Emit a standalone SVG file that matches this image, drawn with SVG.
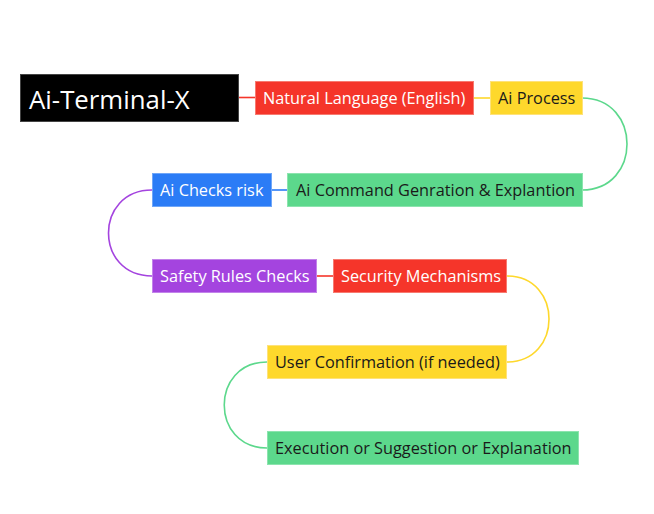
<svg xmlns="http://www.w3.org/2000/svg" width="654" height="514" viewBox="0 0 654 514">
<style>
text{font-family:"Open Sans","Noto Sans",sans-serif;font-size:16.3px;dominant-baseline:central}
.w{fill:#fff}.k{fill:#1a1a1a}
.c{fill:none;stroke-width:1.6}
.red{fill:#f5352a;stroke:#f77a70}
.yel{fill:#fed82c;stroke:#fee27a}
.grn{fill:#5cd88c;stroke:#8ce4ae}
.blu{fill:#2b7cf6;stroke:#6fa6f8}
.pur{fill:#a444df;stroke:#c283ea}
</style>
<rect width="654" height="514" fill="#fff"/>
<g id="connectors">
<path class="c" stroke="#f5352a" d="M239 97.5H255"/>
<path class="c" stroke="#fed82c" d="M474 98H490"/>
<path class="c" stroke="#5cd88c" d="M582 98C642 98 642 190 582 190"/>
<path class="c" stroke="#2b7cf6" d="M271 190H287"/>
<path class="c" stroke="#a444df" d="M152 190C94 190 94 276 152 276"/>
<path class="c" stroke="#f5352a" d="M316 276H333"/>
<path class="c" stroke="#fed82c" d="M507 276C563 276 563 362 507 362"/>
<path class="c" stroke="#5cd88c" d="M267 362C210 362 210 448 267 448"/>
</g>
<g id="root"><rect x="20.5" y="74.5" width="218" height="47" fill="#000" stroke="#444"/><text x="29" y="98.5" class="w" style="font-size:25.8px">Ai-Terminal-X</text></g>
<g id="n1"><rect class="red" x="255.5" y="81.5" width="218" height="33"/><text x="263" y="98" class="w">Natural Language (English)</text></g>
<g id="n2"><rect class="yel" x="490.5" y="81.5" width="92" height="33"/><text x="498" y="98" class="k">Ai Process</text></g>
<g id="n3"><rect class="grn" x="287.5" y="173.5" width="295" height="33"/><text x="296" y="190" class="k">Ai Command Genration &amp; Explantion</text></g>
<g id="n4"><rect class="blu" x="152.5" y="173.5" width="119" height="33"/><text x="160" y="190" class="w">Ai Checks risk</text></g>
<g id="n5"><rect class="pur" x="152.5" y="259.5" width="164" height="33"/><text x="160" y="276" class="w">Safety Rules Checks</text></g>
<g id="n6"><rect class="red" x="333.5" y="259.5" width="173" height="33"/><text x="341" y="276" class="w">Security Mechanisms</text></g>
<g id="n7"><rect class="yel" x="267.5" y="345.5" width="239" height="33"/><text x="275" y="362" class="k">User Confirmation (if needed)</text></g>
<g id="n8"><rect class="grn" x="267.5" y="431.5" width="311" height="33"/><text x="275" y="448" class="k">Execution or Suggestion or Explanation</text></g>
</svg>
